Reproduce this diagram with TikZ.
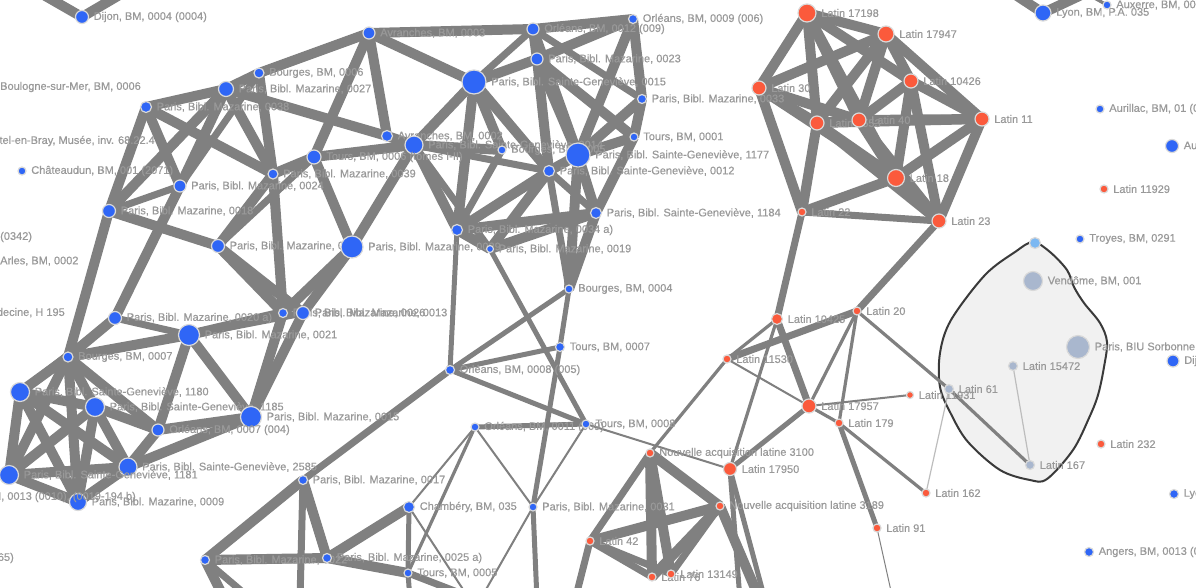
\documentclass[tikz,border=0pt]{standalone}
\usepackage{fontspec}
\setmainfont{Liberation Sans}
\newfontfamily\lblfont[FakeBold=0.45]{Liberation Sans}
\usetikzlibrary{calc}
\definecolor{nblue}{HTML}{2F66F6}
\definecolor{nred}{HTML}{FB5A3C}
\definecolor{ngray}{HTML}{A9B7CE}
\definecolor{nlblue}{HTML}{7CB8F2}
\definecolor{edgec}{HTML}{808080}
\definecolor{edgel}{HTML}{BDBDBD}
\definecolor{lblc}{HTML}{999999}
\definecolor{hullf}{HTML}{F1F1F1}
\definecolor{hulld}{HTML}{3A3A3A}
\pgfdeclarelayer{hull}\pgfdeclarelayer{edges}
\pgfsetlayers{hull,edges,main}
\tikzset{
  nd/.style={circle, inner sep=0pt, draw=black!15, line width=1.2pt},
  bn/.style={nd, fill=nblue},
  rn/.style={nd, fill=nred},
  gn/.style={nd, fill=ngray},
  ln/.style={nd, fill=nlblue},
  lbl/.style={anchor=west, inner sep=0pt, text=lblc, font=\lblfont\fontsize{11}{13}\selectfont},
  ea/.style={draw=edgec, line width=10pt},
  eb/.style={draw=edgec, line width=7pt},
  ec/.style={draw=edgec, line width=5pt},
  ed/.style={draw=edgec, line width=3.2pt},
  ee/.style={draw=edgec, line width=2pt},
  ef/.style={draw=edgec, line width=1pt},
  eg/.style={draw=edgel, line width=1.2pt},
}
\newcommand{\mknode}[6]{\node[#5, minimum size=#4pt] (#1) at (#2,#3) {};
  \node[lbl] (#1-l) at ([xshift=4.5pt]#1.east) {#6};}
\begin{document}
\begin{tikzpicture}[x=1pt,y=-1pt]
\useasboundingbox (0,0) rectangle (1196,587);
\begin{pgfonlayer}{hull}
\fill[white] (0,0) rectangle (1196,587);
\draw[fill=hullf, draw=hulld, line width=2pt] plot[smooth cycle, tension=0.55] coordinates {
 (1033,242) (1050,252) (1067,270) (1074,287) (1084,303) (1100,323) (1107,342) (1104,367)
 (1098,395) (1089,418) (1073,450) (1047,479) (1030,480) (1000,470) (968,442) (951,414)
 (940,387) (940,353) (951,320) (985,275) (1015,252)};
\end{pgfonlayer}
% ---------------- blue nodes
\mknode{dij}{82}{17}{13}{bn}{Dijon, BM, 0004 (0004)}
\mknode{m38}{146}{107}{11}{bn}{Paris, Bibl. Mazarine, 0038}
\mknode{m27}{226}{89}{15}{bn}{Paris, Bibl. Mazarine, 0027}
\mknode{b06}{259}{73}{10}{bn}{Bourges, BM, 0006}
\mknode{av03}{369}{33}{12}{bn}{Avranches, BM, 0003}
\mknode{o12}{533}{29}{12}{bn}{Orléans, BM, 0012 (009)}
\mknode{o09}{633}{19}{9}{bn}{Orléans, BM, 0009 (006)}
\mknode{m23}{537}{59}{12}{bn}{Paris, Bibl. Mazarine, 0023}
\mknode{g15}{474}{82}{24}{bn}{Paris, Bibl. Sainte-Geneviève, 0015}
\mknode{m33}{642}{99}{9}{bn}{Paris, Bibl. Mazarine, 0033}
\mknode{t01}{634}{137}{8}{bn}{Tours, BM, 0001}
\mknode{av02}{387}{136}{11}{bn}{Avranches, BM, 0002}
\mknode{g14}{414}{145}{18}{bn}{Paris, Bibl. Sainte-Geneviève, 0014}
\mknode{t06}{314}{157}{14}{bn}{Tours, BM, 0006 (tomes I-II)}
\mknode{b05}{502}{150}{8}{bn}{Bourges, BM, 0005}
\mknode{g77}{578}{155}{24}{bn}{Paris, Bibl. Sainte-Geneviève, 1177}
\mknode{g12}{549}{171}{11}{bn}{Paris, Bibl. Sainte-Geneviève, 0012}
\mknode{m39}{273}{174}{10}{bn}{Paris, Bibl. Mazarine, 0039}
\mknode{m24}{180}{186}{12}{bn}{Paris, Bibl. Mazarine, 0024}
\mknode{chd}{22}{171}{8}{bn}{Châteaudun, BM, 001 (2071)}
\mknode{m18}{109}{211}{13}{bn}{Paris, Bibl. Mazarine, 0018}
\mknode{mA}{218}{246}{13}{bn}{Paris, Bibl. Mazarine, 0028}
\mknode{m29}{352}{247}{22}{bn}{Paris, Bibl. Mazarine, 0029}
\mknode{m34}{457}{230}{11}{bn}{Paris, Bibl. Mazarine, 0034 a)}
\mknode{m19}{490}{249}{7}{bn}{Paris, Bibl. Mazarine, 0019}
\mknode{g84}{596}{213}{11}{bn}{Paris, Bibl. Sainte-Geneviève, 1184}
\mknode{b04}{569}{289}{8}{bn}{Bourges, BM, 0004}
\mknode{m20}{115}{318}{13}{bn}{Paris, Bibl. Mazarine, 0020 a)}
\mknode{m21}{189}{335}{21}{bn}{Paris, Bibl. Mazarine, 0021}
\mknode{m26}{283}{313}{9}{bn}{Paris, Bibl. Mazarine, 0026}
\mknode{m13}{303}{313}{13}{bn}{Paris, Bibl. Mazarine, 0013}
\mknode{b07}{68}{357}{10}{bn}{Bourges, BM, 0007}
\mknode{g80}{20}{392}{19}{bn}{Paris, Bibl. Sainte-Geneviève, 1180}
\mknode{g85}{95}{407}{19}{bn}{Paris, Bibl. Sainte-Geneviève, 1185}
\mknode{m15}{251}{417}{21}{bn}{Paris, Bibl. Mazarine, 0015}
\mknode{o07}{158}{430}{12}{bn}{Orléans, BM, 0007 (004)}
\mknode{g2585}{128}{467}{18}{bn}{Paris, Bibl. Sainte-Geneviève, 2585}
\mknode{g81}{9}{475}{19}{bn}{Paris, Bibl. Sainte-Geneviève, 1181}
\mknode{m09}{78}{502}{17}{bn}{Paris, Bibl. Mazarine, 0009}
\mknode{m17}{303}{480}{9}{bn}{Paris, Bibl. Mazarine, 0017}
\mknode{mB}{205}{560}{9}{bn}{Paris, Bibl. Mazarine, 0022}
\mknode{m25a}{327}{558}{9}{bn}{Paris, Bibl. Mazarine, 0025 a)}
\mknode{ch}{409}{507}{11}{bn}{Chambéry, BM, 035}
\mknode{t05}{408}{573}{8}{bn}{Tours, BM, 0005}
\mknode{o11}{475}{427}{8}{bn}{Orléans, BM, 0011 (009)}
\mknode{m31}{533}{507}{8}{bn}{Paris, Bibl. Mazarine, 0031}
\mknode{t08}{586}{424}{8}{bn}{Tours, BM, 0008}
\mknode{o08}{450}{370}{9}{bn}{Orléans, BM, 0008 (005)}
\mknode{t07}{560}{347}{9}{bn}{Tours, BM, 0007}
\mknode{aur}{1100}{109}{8}{bn}{Aurillac, BM, 01 (0001)}
\mknode{au2}{1172}{146}{13}{bn}{Autun, BM, 0001}
\mknode{troy}{1080}{239}{8}{bn}{Troyes, BM, 0291}
\mknode{di2}{1173}{361}{12}{bn}{Dijon, BM, 0013}
\mknode{ly2}{1174}{494}{9}{bn}{Lyon, BM, 0001}
\mknode{ang}{1089}{552}{9}{bn}{Angers, BM, 0013 (0010)}
\mknode{lyon}{1043}{13}{16}{bn}{Lyon, BM, P.A. 035}
\mknode{aux}{1107}{5}{8}{bn}{Auxerre, BM, 0001}
% ---------------- red nodes
\mknode{l17198}{807}{13}{18}{rn}{Latin 17198}
\mknode{l17947}{886}{34}{16}{rn}{Latin 17947}
\mknode{l10426}{911}{81}{14}{rn}{Latin 10426}
\mknode{l30}{759}{88}{14}{rn}{Latin 30}
\mknode{l11}{982}{119}{14}{rn}{Latin 11}
\mknode{l1553}{817}{123}{14}{rn}{Latin 1553}
\mknode{l40}{859}{120}{14}{rn}{Latin 40}
\mknode{l18}{896}{178}{17}{rn}{Latin 18}
\mknode{l22}{802}{212}{8}{rn}{Latin 22}
\mknode{l23}{939}{221}{14}{rn}{Latin 23}
\mknode{l20}{857}{311}{8}{rn}{Latin 20}
\mknode{l10425}{777}{319}{11}{rn}{Latin 10425}
\mknode{l11530}{727}{359}{8}{rn}{Latin 11530}
\mknode{l17957}{809}{406}{14}{rn}{Latin 17957}
\mknode{l179}{839}{423}{8}{rn}{Latin 179}
\mknode{l11931}{910}{395}{7}{rn}{Latin 11931}
\mknode{l162}{926}{493}{8}{rn}{Latin 162}
\mknode{l91}{877}{528}{8}{rn}{Latin 91}
\mknode{l232}{1101}{444}{8}{rn}{Latin 232}
\mknode{l11929}{1104}{189}{8}{rn}{Latin 11929}
\mknode{na3100}{650}{453}{8}{rn}{Nouvelle acquisition latine 3100}
\mknode{l17950}{730}{469}{13}{rn}{Latin 17950}
\mknode{na3189}{720}{506}{8}{rn}{Nouvelle acquisition latine 3189}
\mknode{l42}{590}{541}{8}{rn}{Latin 42}
\mknode{l76}{652}{577}{8}{rn}{Latin 76}
\mknode{l13149}{671}{574}{8}{rn}{Latin 13149}
% ---------------- hull nodes
\node[ln, minimum size=11pt] (lb) at (1035,243) {};
\mknode{vend}{1033}{281}{19}{gn}{Vendôme, BM, 001}
\mknode{sorb}{1078}{347}{23}{gn}{Paris, BIU Sorbonne, 0001}
\mknode{l15472}{1013}{366}{9}{gn}{Latin 15472}
\mknode{l61}{949}{389}{9}{gn}{Latin 61}
\mknode{l167}{1030}{465}{9}{gn}{Latin 167}
% ---------------- labels of nodes outside the frame
\node[lbl] (boul) at (0,87) {Boulogne-sur-Mer, BM, 0006};
\node[lbl, anchor=east] (neuf) at (155,141) {Neufchâtel-en-Bray, Musée, inv. 68.22.4};
\node[lbl] (x0342) at (0,237) {(0342)};
\node[lbl] (arles) at (0,261) {Arles, BM, 0002};
\node[lbl, anchor=east] (mont) at (65,313) {Montpellier, BIU Médecine, H 195};
\node[lbl, anchor=east] (x0013) at (136,497) {Dijon, BM, 0013 (0010), (0019-194 b)};
\node[lbl, anchor=east] (x65) at (14,558) {(0065)};
% ---------------- free ends
\coordinate (dA) at (35,-10);
\coordinate (dB) at (128,-10);
\coordinate (lyA) at (1008,-10);
\coordinate (lyB) at (1092,-10);
\coordinate (auxA) at (1080,-10);
\coordinate (m31a) at (537,600);
\coordinate (m31b) at (480,600);
\coordinate (m17a) at (300,600);
\coordinate (mBa) at (225,600);
\coordinate (mBb) at (252,600);
\coordinate (cha) at (470,600);
\coordinate (t05a) at (410,600);
\coordinate (t05b) at (478,600);
\coordinate (l91a) at (893,600);
\coordinate (naa) at (760,600);
\coordinate (l17950a) at (740,600);
\coordinate (l17950b) at (765,600);
\coordinate (l42a) at (575,600);
\begin{pgfonlayer}{edges}
\foreach \a/\b in {dij/dA,dij/dB,lyon/lyA,lyon/lyB,
 m38/m27,m27/b06,b06/av03,m38/m18,m38/m24,m38/m39,m27/m18,m27/m24,m27/m39,m27/av02,
 b06/m39,av03/t06,av03/av02,av03/g15,av03/o12,t06/g14,t06/m39,t06/m29,m39/mA,m39/m26,
 m24/m20,m18/mA,m18/b07,mA/m26,mA/m13,m29/m13,m29/m26,m29/g14,m21/m26,m21/m15,m21/o07,
 m21/b07,m20/b07,m13/m15,m26/m15,m15/g2585,m15/o07,
 b07/g80,b07/g85,b07/g81,b07/m09,b07/o07,g80/g85,g80/g81,g80/m09,g80/g2585,
 g85/g81,g85/m09,g85/g2585,g85/o07,g81/m09,g81/g2585,m09/g2585,o07/g2585,
 g14/av02,g14/g15,g14/m34,g14/b05,g15/m34,g15/g12,g15/m23,g15/b05,o12/o09,o12/m23,o12/g77,
 o09/m23,o09/m33,o09/g77,m23/g77,m23/t01,m23/g12,m33/t01,m33/g77,t01/g77,t01/g84,g77/g84,
 g77/g12,g77/b04,g12/m34,g12/m19,m34/m19,m34/g84,m19/g84,g84/b04,
 m17/mB,m17/m25a,mB/m25a,mB/mBa,m25a/t05,m25a/ch,
 l17198/l17947,l17198/l30,l17198/l1553,l17198/l40,l17198/l10426,l17198/l18,
 l17947/l30,l17947/l11,l17947/l1553,l17947/l40,l17947/l10426,
 l30/l1553,l30/l40,l30/l22,l30/l18,l1553/l40,l1553/l11,l1553/l18,l1553/l23,l1553/l22,
 l40/l10426,l40/l11,l40/l18,l40/l23,l10426/l11,l10426/l18,l10426/l23,l11/l18,l11/l23,
 l18/l23,l18/l22,
 na3100/na3189,na3100/l13149,na3100/l76,l42/na3189,na3189/l76,na3189/naa}
 \draw[ea] (\a.center) -- (\b.center);
\foreach \a/\b in {b06/m24,m24/m18,t06/mA,m21/m13,m20/m21,m20/g80,g14/g12,g14/m19,
 g15/o12,o12/g12,o12/m33,g77/m34,g12/g84,g12/b04,b05/m34,o08/m17,m17/m17a,mB/mBb,t05/t05b,
 l22/l23,l22/l10425,l10425/l17957,l11530/l20,l20/l23,na3100/l42,l42/l76,l42/l13149,
 na3189/l13149,l42/l42a}
 \draw[eb] (\a.center) -- (\b.center);
\foreach \a/\b in {m34/o08,m19/t08,b04/t07,b04/o08,t07/o08,t07/m31,o08/t08,t08/o11,
 m31/m31a,ch/t05,t05/t05a,l17957/l17950,l179/l91,l17950/l17950a,l17950/l17950b}
 \draw[ec] (\a.center) -- (\b.center);
\foreach \a/\b in {o11/t05,l10425/l11530,l10425/l17950,l20/l179,l20/l17957,l20/l61,
 l11530/na3100,l17957/l179,l179/l162,l61/l167,aux/auxA}
 \draw[ed] (\a.center) -- (\b.center);
\foreach \a/\b in {o11/ch,o11/m31,m31/t08,m31/m31b,ch/cha,l11530/l17957,l17957/l11931,
 t08/l17950}
 \draw[ee] (\a.center) -- (\b.center);
\draw[ef] (l91.center) -- (l91a);
\foreach \a/\b in {l162/l61,l15472/l167}
 \draw[eg] (\a.center) -- (\b.center);
\end{pgfonlayer}
\end{tikzpicture}
\end{document}
